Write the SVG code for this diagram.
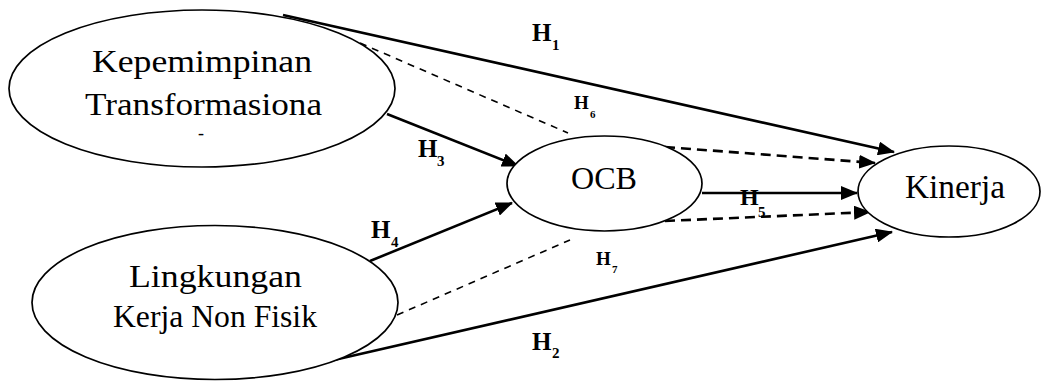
<svg xmlns="http://www.w3.org/2000/svg" width="1043" height="381" viewBox="0 0 1043 381">
<defs>
<style>
.node{fill:#fff;stroke:#000;stroke-width:1.7}
.lbl{font-family:"Liberation Serif","Times New Roman",serif;fill:#000}
.big{font-size:31px}
.hyp{font-family:"Liberation Serif","Times New Roman",serif;font-weight:bold;fill:#000}
.solid{stroke:#000;stroke-width:2.6;fill:none}
.dash{stroke:#000;stroke-width:2.6;fill:none;stroke-dasharray:10 6}
.thin{stroke:#000;stroke-width:1.6;fill:none;stroke-dasharray:7 6}
</style>
<marker id="ah" markerUnits="userSpaceOnUse" markerWidth="17" markerHeight="14" refX="16" refY="7" orient="auto">
<path d="M0,0 L17,7 L0,14 z" fill="#000"/>
</marker>
</defs>
<rect width="1043" height="381" fill="#fff"/>
<g id="connectors">
<line class="solid" x1="283" y1="15" x2="894" y2="152" marker-end="url(#ah)"/>
<line class="thin" x1="360" y1="43" x2="568" y2="133"/>
<line class="solid" x1="387" y1="114" x2="518" y2="166" marker-end="url(#ah)"/>
<line class="dash" x1="665" y1="147" x2="875" y2="163" marker-end="url(#ah)"/>
<line class="solid" x1="702" y1="193" x2="857" y2="193" marker-end="url(#ah)"/>
<line class="dash" x1="665" y1="221" x2="870" y2="212" marker-end="url(#ah)"/>
<line class="solid" x1="370" y1="261" x2="512" y2="203" marker-end="url(#ah)"/>
<line class="thin" x1="397" y1="315" x2="570" y2="240"/>
<line class="solid" x1="334" y1="360" x2="892" y2="232" marker-end="url(#ah)"/>
</g>
<g id="node-kepemimpinan">
<ellipse class="node" cx="202" cy="88.5" rx="193" ry="78.5"/>
<text class="lbl big" x="92" y="72" textLength="220" lengthAdjust="spacingAndGlyphs">Kepemimpinan</text>
<text class="lbl big" x="85" y="115" textLength="237" lengthAdjust="spacingAndGlyphs">Transformasiona</text>
<text class="lbl" x="198" y="139" font-size="18">-</text>
</g>
<g id="node-lingkungan">
<ellipse class="node" cx="215" cy="302.5" rx="183" ry="77"/>
<text class="lbl big" x="129" y="287" textLength="173" lengthAdjust="spacingAndGlyphs">Lingkungan</text>
<text class="lbl big" x="113" y="327" textLength="204" lengthAdjust="spacingAndGlyphs">Kerja Non Fisik</text>
</g>
<g id="node-ocb">
<ellipse class="node" cx="604.5" cy="183.5" rx="97.5" ry="47.5"/>
<text class="lbl" x="571" y="189" font-size="32" textLength="66" lengthAdjust="spacingAndGlyphs">OCB</text>
</g>
<g id="node-kinerja">
<ellipse class="node" cx="949" cy="191.5" rx="91" ry="45.5"/>
<text class="lbl" x="905" y="198" font-size="33" textLength="100" lengthAdjust="spacingAndGlyphs">Kinerja</text>
</g>
<g id="labels">
<text class="hyp" font-size="25" x="532" y="41">H<tspan x="552" y="50" font-size="15">1</tspan></text>
<text class="hyp" font-size="25" x="532" y="350">H<tspan x="552" y="358" font-size="15">2</tspan></text>
<text class="hyp" font-size="25" x="418" y="157">H<tspan x="437" y="166" font-size="15">3</tspan></text>
<text class="hyp" font-size="25" x="371" y="238">H<tspan x="391" y="247" font-size="15">4</tspan></text>
<text class="hyp" font-size="24" x="740" y="205">H<tspan x="758" y="217" font-size="15">5</tspan></text>
<text class="hyp" font-size="19" x="574" y="109">H<tspan x="590" y="118" font-size="11">6</tspan></text>
<text class="hyp" font-size="19" x="596" y="265">H<tspan x="612" y="273" font-size="11">7</tspan></text>
</g>
</svg>
